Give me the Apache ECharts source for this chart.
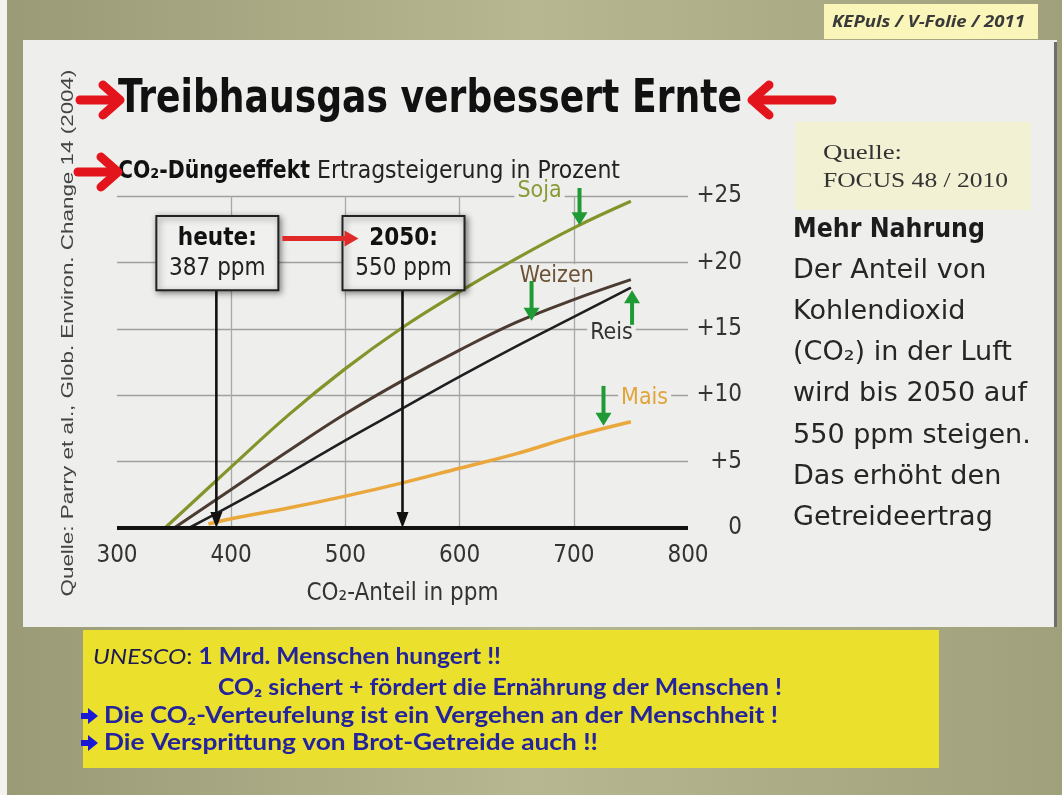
<!DOCTYPE html>
<html>
<head>
<meta charset="utf-8">
<script src="https://cdn.jsdelivr.net/npm/echarts@6/dist/echarts.min.js"></script>
<style>
  html, body { margin: 0; padding: 0; }
  #chart { width: 1062px; height: 795px; }
</style>
</head>
<body>
<div id="chart"></div>
<script>
// Ertragsteigerung in Prozent je CO2-Anteil (ppm)
const soja   = [[342, 0], [400, 4.6], [450, 8.5], [500, 12.0], [550, 15.1], [600, 17.8], [650, 20.3], [700, 22.6], [750, 24.6]];
const weizen = [[350, 0], [400, 2.9], [450, 5.8], [500, 8.6], [550, 11.1], [600, 13.4], [650, 15.5], [700, 17.2], [750, 18.7]];
const reis   = [[363, 0], [400, 1.7], [450, 4.1], [500, 6.6], [550, 9.0], [600, 11.4], [650, 13.7], [700, 15.9], [750, 18.1]];
const mais   = [[380, 0.3], [400, 0.7], [450, 1.5], [500, 2.4], [550, 3.4], [600, 4.5], [650, 5.6], [700, 6.9], [750, 8.0]];

const xTicks = [300, 400, 500, 600, 700, 800];
const yTicks = [0, 5, 10, 15, 20, 25];

// CO2-Marken: heute und 2050
const markers = [
  { title: 'heute:', label: '387 ppm', ppm: 387 },
  { title: '2050:', label: '550 ppm', ppm: 550 }
];

const textLines = [
  'Der Anteil von',
  'Kohlendioxid',
  '(CO₂) in der Luft',
  'wird bis 2050 auf',
  '550 ppm steigen.',
  'Das erhöht den',
  'Getreideertrag'
];

const NARROW = "'Liberation Sans Narrow','DejaVu Sans Condensed','Roboto Condensed',sans-serif";
const SANS = "'Liberation Sans',Arial,sans-serif";
const WIDE = "'DejaVu Sans',sans-serif";
const BOX = "Lato,'Open Sans',sans-serif";

// Breite eines Textes messen, um ihn auf die Breite der Vorlage zu bringen
const measureCtx = document.createElement('canvas').getContext('2d');
function fit(text, font, width) {
  measureCtx.font = font;
  return width / measureCtx.measureText(text).width;
}

const chart = echarts.init(document.getElementById('chart'));

const lineSeries = (name, data, color, width) => ({
  name: name,
  type: 'line',
  data: data,
  smooth: 0.4,
  showSymbol: false,
  z: 5,
  lineStyle: { color: color, width: width }
});

chart.setOption({
  animation: false,
  grid: { left: 117, right: 374, top: 196, bottom: 267 },
  xAxis: {
    type: 'value',
    min: xTicks[0],
    max: xTicks[xTicks.length - 1],
    interval: xTicks[1] - xTicks[0],
    axisLine: { show: false },
    axisTick: { show: false },
    axisLabel: { color: '#333', fontFamily: NARROW, fontSize: 24, margin: 16 },
    splitLine: { show: true, showMinLine: false, showMaxLine: false, lineStyle: { color: '#a8a8a8', width: 1.3 } },
    name: 'CO₂-Anteil in ppm',
    nameLocation: 'middle',
    nameGap: 54,
    nameTextStyle: { color: '#333', fontFamily: NARROW, fontSize: 24 }
  },
  yAxis: {
    type: 'value',
    position: 'right',
    min: yTicks[0],
    max: yTicks[yTicks.length - 1],
    interval: yTicks[1] - yTicks[0],
    axisLine: { show: false },
    axisTick: { show: false },
    axisLabel: {
      color: '#333', fontFamily: NARROW, fontSize: 24, align: 'right', margin: 54,
      formatter: v => (v === 0 ? '0' : '+' + v)
    },
    splitLine: { show: true, lineStyle: { color: '#a0a0a0', width: 1.3 } }
  },
  series: [
    lineSeries('Mais', mais, '#e9a73c', 3.5),
    lineSeries('Reis', reis, '#1f1f22', 2.6),
    lineSeries('Weizen', weizen, '#4b3b30', 3),
    lineSeries('Soja', soja, '#84942a', 3.2)
  ]
});

const px = p => chart.convertToPixel({ gridIndex: 0 }, p);

function arrow(x1, y1, x2, y2, color, w, hl, hw, z) {
  const dx = x2 - x1, dy = y2 - y1, len = Math.hypot(dx, dy);
  const ux = dx / len, uy = dy / len;
  const bx = x2 - ux * hl, by = y2 - uy * hl;
  return [
    { type: 'line', z: z, shape: { x1: x1, y1: y1, x2: bx + ux * 2, y2: by + uy * 2 }, style: { stroke: color, lineWidth: w } },
    { type: 'polygon', z: z, shape: { points: [[x2, y2], [bx - uy * hw, by + ux * hw], [bx + uy * hw, by - ux * hw]] }, style: { fill: color } }
  ];
}

// dicker roter Pfeil im Folienstil (Winkel)
function redArrow(x1, x2, y, z) {
  const dir = x2 > x1 ? 1 : -1;
  return [
    { type: 'line', z: z, shape: { x1: x1, y1: y, x2: x2 - dir * 3, y2: y }, style: { stroke: '#e3141b', lineWidth: 9, lineCap: 'round' } },
    { type: 'polyline', z: z, shape: { points: [[x2 - dir * 17, y - 15], [x2, y], [x2 - dir * 17, y + 15]] }, style: { stroke: '#e3141b', lineWidth: 9, lineCap: 'round', lineJoin: 'round', fill: null } }
  ];
}

// Text, der auf eine Breite gestaucht/gestreckt wird
function fittedText(text, font, x, y, width, fill, z, extra) {
  return Object.assign({
    type: 'text', z: z, x: x, y: y, scaleX: fit(text, font, width),
    style: { text: text, fill: fill, font: font, verticalAlign: 'middle' }
  }, extra || {});
}

const g = [];

// Hintergrund
g.push({
  type: 'rect', z: -20, shape: { x: 0, y: 0, width: 1062, height: 795 },
  style: {
    fill: new echarts.graphic.LinearGradient(0, 0, 1, 0, [
      { offset: 0, color: '#9a9a77' },
      { offset: 0.5, color: '#b7b791' },
      { offset: 1, color: '#a0a07c' }
    ])
  }
});
g.push({ type: 'rect', z: -19, shape: { x: 0, y: 0, width: 7, height: 795 }, style: { fill: '#f2f2ee' } });
g.push({ type: 'rect', z: -19, shape: { x: 23, y: 40, width: 1034, height: 587 }, style: { fill: '#eeeeec' } });
g.push({ type: 'rect', z: -19, shape: { x: 1054, y: 42, width: 3, height: 585 }, style: { fill: '#6f6f6a' } });

// KEPuls Box
g.push({ type: 'rect', z: -18, shape: { x: 824, y: 4, width: 214, height: 35 }, style: { fill: '#faf5b8' } });
g.push(fittedText('KEPuls / V-Folie / 2011', "italic bold 16px 'Open Sans',sans-serif", 832, 22, 193, '#3a3a3a', 10));

// Quelle Box
g.push({ type: 'rect', z: -18, shape: { x: 795, y: 122, width: 236, height: 88 }, style: { fill: '#f2f1d4' } });
g.push(fittedText('Quelle:', "21px 'Liberation Serif',serif", 823, 153, 79, '#333', 10));
g.push(fittedText('FOCUS 48 / 2010', "21px 'Liberation Serif',serif", 823, 181, 185, '#333', 10));

// Titel und Untertitel
g.push(fittedText('Treibhausgas verbessert Ernte', 'bold 47px ' + NARROW, 118, 100, 624, '#111', 10));
g.push(fittedText('CO₂-Düngeeffekt', 'bold 24px ' + NARROW, 118, 172, 192, '#111', 10));
g.push(fittedText('Ertragsteigerung in Prozent', '24px ' + NARROW, 317, 172, 303, '#222', 10));
g.push(...redArrow(80, 120, 100, 12));
g.push(...redArrow(832, 752, 100, 12));
g.push(...redArrow(78, 118, 172, 12));

// Quellenangabe senkrecht
const srcText = 'Quelle: Parry et al., Glob. Environ. Change 14 (2004)';
g.push({
  type: 'text', z: 10, x: 68, y: 333, rotation: Math.PI / 2,
  scaleX: fit(srcText, '17px ' + SANS, 527),
  style: { text: srcText, fill: '#444', font: '17px ' + SANS, align: 'center', verticalAlign: 'middle' }
});

// x-Achsenlinie
const a0 = px([xTicks[0], 0]), a1 = px([xTicks[xTicks.length - 1], 0]);
g.push({ type: 'line', z: 8, shape: { x1: a0[0], y1: a0[1], x2: a1[0], y2: a1[1] }, style: { stroke: '#111', lineWidth: 4 } });

// Marken-Boxen mit senkrechten Pfeilen
const boxTop = 23.5, boxBottom = 17.9;
markers.forEach(m => {
  const top = px([m.ppm, boxTop]), bot = px([m.ppm, boxBottom]), base = px([m.ppm, 0]);
  const cx = top[0] + 1;
  g.push({
    type: 'rect', z: 20, shape: { x: cx - 61, y: top[1], width: 122, height: bot[1] - top[1] },
    style: { fill: '#f0f0ee', stroke: '#222', lineWidth: 2, shadowBlur: 6, shadowColor: 'rgba(0,0,0,0.45)', shadowOffsetX: 2, shadowOffsetY: 2 }
  });
  g.push({ type: 'text', z: 21, x: cx, y: top[1] + 23, style: { text: m.title, fill: '#111', font: 'bold 24px ' + NARROW, align: 'center', verticalAlign: 'middle' } });
  g.push({ type: 'text', z: 21, x: cx, y: top[1] + 53, style: { text: m.label, fill: '#222', font: '24px ' + NARROW, align: 'center', verticalAlign: 'middle' } });
  g.push(...arrow(base[0], bot[1], base[0], base[1], '#111', 2.6, 16, 6, 19));
});
// roter Pfeil heute -> 2050
const r0 = px([markers[0].ppm, 21.8]), r1 = px([markers[1].ppm, 21.8]);
g.push(...arrow(r0[0] + 66, r0[1], r1[0] - 44, r1[1], '#e02a2a', 5, 14, 8, 22));

// Beschriftungen der Kurven
const curveLabels = [
  { text: 'Soja', at: [670, 25.4], color: '#889a33' },
  { text: 'Weizen', at: [685, 19.0], color: '#6b5234' },
  { text: 'Reis', at: [733, 14.7], color: '#333' },
  { text: 'Mais', at: [762, 9.8], color: '#e2a33a' }
];
curveLabels.forEach(l => {
  const p = px(l.at);
  g.push({
    type: 'text', z: 15, x: p[0], y: p[1],
    style: { text: l.text, fill: l.color, font: '23px ' + NARROW, align: 'center', verticalAlign: 'middle', backgroundColor: '#eeeeec', padding: [0, 3] }
  });
});

// gruene Pfeile: [ppm, von %, bis %]
const greenArrows = [
  [705, 25.6, 22.8],
  [663, 18.6, 15.6],
  [751, 15.3, 17.9],
  [726, 10.7, 7.7]
];
greenArrows.forEach(a => {
  const p0 = px([a[0], a[1]]), p1 = px([a[0], a[2]]);
  g.push(...arrow(p0[0], p0[1], p1[0], p1[1], '#1f9a35', 4, 13, 8, 16));
});

// Text rechts
const rightFont = '26px ' + WIDE;
const rightScale = fit('wird bis 2050 auf', rightFont, 234);
g.push(fittedText('Mehr Nahrung', 'bold 26px ' + WIDE, 793, 230, 192, '#1c1c1c', 10));
textLines.forEach((t, i) => {
  g.push({ type: 'text', z: 10, x: 793, y: 271 + i * 41.2, scaleX: rightScale, style: { text: t, fill: '#262626', font: rightFont, verticalAlign: 'middle' } });
});

// gelbe Box unten
g.push({ type: 'rect', z: -18, shape: { x: 83, y: 630, width: 856, height: 138 }, style: { fill: '#ebe02c' } });
const blue = '#23239c';
const boxFont = 'bold 22px ' + BOX;
const line1 = 'UNESCO: 1 Mrd. Menschen hungert !!';
g.push({
  type: 'text', z: 10, x: 93, y: 657, scaleX: fit(line1, boxFont, 415),
  style: {
    text: '{i|UNESCO}{n|: }{b|1 Mrd. Menschen hungert !!}',
    verticalAlign: 'middle',
    rich: {
      i: { fill: '#1c1c52', font: 'italic 22px ' + BOX },
      n: { fill: '#1c1c52', font: '22px ' + BOX },
      b: { fill: blue, font: boxFont }
    }
  }
});
g.push(fittedText('CO₂ sichert + fördert die Ernährung der Menschen !', boxFont, 218, 688, 564, blue, 10));
[
  ['Die CO₂-Verteufelung ist ein Vergehen an der Menschheit !', 674],
  ['Die Versprittung von Brot-Getreide auch !!', 494]
].forEach((t, i) => {
  const y = 716 + i * 27;
  g.push(...arrow(81, y, 98, y, '#1a1ad6', 6, 10, 8, 10));
  g.push(fittedText(t[0], boxFont, 104, y, t[1], blue, 10));
});

chart.setOption({ graphic: g });
</script>
</body>
</html>
